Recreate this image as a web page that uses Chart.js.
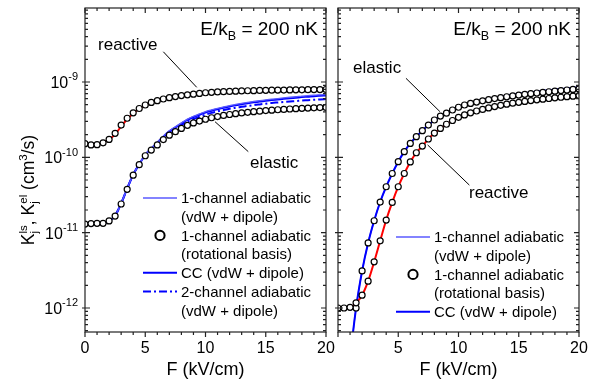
<!DOCTYPE html>
<html>
<head>
<meta charset="utf-8">
<script src="https://cdn.jsdelivr.net/npm/chart.js@4.4.0/dist/chart.umd.min.js"></script>
<style>
  html, body { margin: 0; padding: 0; background: #fff; }
  #wrap { position: relative; width: 596px; height: 381px; }
  #wrap canvas { position: absolute; left: 0; top: 0; }
</style>
</head>
<body>
<div id="wrap">
  <canvas id="leftChart" width="596" height="381"></canvas>
  <canvas id="rightChart" width="596" height="381"></canvas>
</div>
<script>
/*
  Two-panel log plot: loss (reactive) and elastic rate coefficients vs electric field.
  Left and right panels are separate charts laid over each other on one page.
*/
const FONT = '"Liberation Sans", Arial, Helvetica, sans-serif';

// Electric field grid, kV/cm
const fieldKV = [0, 0.5, 1, 1.5, 2, 2.5, 3, 3.5, 4, 4.5, 5, 5.5, 6, 6.5, 7, 7.5, 8, 8.5, 9, 9.5,
  10, 10.5, 11, 11.5, 12, 12.5, 13, 13.5, 14, 14.5, 15, 15.5, 16, 16.5, 17, 17.5, 18, 18.5, 19, 19.5, 20];

/* Left panel, values in units of 1e-10 cm^3/s */
const LEFT_UNIT = 1e-10;
const leftReactiveCircles = [1.52, 1.46, 1.47, 1.56, 1.73, 2.08, 2.68, 3.30, 3.90, 4.45, 4.95, 5.35, 5.65, 5.95, 6.20, 6.40, 6.60, 6.75, 6.90, 7.05,
  7.20, 7.30, 7.38, 7.45, 7.50, 7.55, 7.60, 7.65, 7.68, 7.72, 7.75, 7.78, 7.80, 7.82, 7.84, 7.86, 7.88, 7.90, 7.92, 7.94, 7.95];
const leftReactiveLine = [1.52, 1.46, 1.47, 1.56, 1.73, 2.02, 2.58, 3.20, 3.82, 4.42, 4.93, 5.35, 5.65, 5.95, 6.20, 6.40, 6.60, 6.75, 6.90, 7.05,
  7.20, 7.30, 7.38, 7.45, 7.50, 7.55, 7.60, 7.65, 7.68, 7.72, 7.75, 7.78, 7.80, 7.82, 7.84, 7.86, 7.88, 7.90, 7.92, 7.94, 7.95];
const leftElasticCircles = [0.130, 0.132, 0.133, 0.133, 0.143, 0.166, 0.240, 0.376, 0.580, 0.800, 1.05, 1.25, 1.46, 1.72, 1.97, 2.19, 2.42, 2.66, 2.86, 3.03,
  3.20, 3.35, 3.48, 3.60, 3.70, 3.80, 3.88, 3.96, 4.04, 4.10, 4.17, 4.23, 4.28, 4.33, 4.38, 4.42, 4.47, 4.50, 4.54, 4.57, 4.60];
const leftElasticCC = [0.130, 0.132, 0.133, 0.133, 0.143, 0.168, 0.245, 0.385, 0.590, 0.810, 1.08, 1.31, 1.56, 1.88, 2.21, 2.50, 2.81, 3.14, 3.43, 3.68,
  3.94, 4.15, 4.35, 4.55, 4.74, 4.90, 5.06, 5.23, 5.37, 5.49, 5.63, 5.75, 5.86, 5.98, 6.09, 6.19, 6.30, 6.39, 6.49, 6.56, 6.62];
const leftElastic1ch = [0.130, 0.132, 0.133, 0.133, 0.143, 0.168, 0.245, 0.385, 0.590, 0.815, 1.09, 1.32, 1.58, 1.91, 2.25, 2.55, 2.87, 3.21, 3.51, 3.77,
  4.04, 4.26, 4.47, 4.67, 4.87, 5.04, 5.20, 5.38, 5.52, 5.65, 5.79, 5.92, 6.03, 6.15, 6.27, 6.37, 6.49, 6.58, 6.68, 6.75, 6.82];
const leftElastic2ch = [0.130, 0.132, 0.133, 0.133, 0.143, 0.168, 0.245, 0.385, 0.590, 0.810, 1.07, 1.29, 1.53, 1.83, 2.13, 2.40, 2.69, 2.98, 3.23, 3.45,
  3.68, 3.89, 4.07, 4.25, 4.40, 4.56, 4.68, 4.81, 4.93, 5.04, 5.15, 5.27, 5.35, 5.43, 5.52, 5.59, 5.68, 5.74, 5.81, 5.87, 5.93];

/* Right panel, absolute values in cm^3/s */
const rightReactive = [1.00e-12, 1.00e-12, 1.02e-12, 1.17e-12, 1.48e-12, 2.27e-12, 4.1e-12, 7.8e-12, 1.47e-11, 2.52e-11,
  4.07e-11, 6.1e-11, 8.7e-11, 1.15e-10, 1.41e-10, 1.75e-10, 2.10e-10, 2.42e-10, 2.75e-10, 3.08e-10,
  3.40e-10, 3.65e-10, 3.90e-10, 4.12e-10, 4.33e-10, 4.53e-10, 4.72e-10, 4.90e-10, 5.07e-10, 5.23e-10,
  5.38e-10, 5.52e-10, 5.66e-10, 5.79e-10, 5.92e-10, 6.04e-10, 6.16e-10, 6.27e-10, 6.38e-10, 6.49e-10, 6.60e-10];
const rightElasticCircles = [null, null, null, 1.00e-12, 3.1e-12, 7.3e-12, 1.44e-11, 2.55e-11, 4.07e-11, 6.1e-11,
  8.75e-11, 1.19e-10, 1.53e-10, 1.88e-10, 2.26e-10, 2.68e-10, 3.13e-10, 3.53e-10, 3.85e-10, 4.25e-10,
  4.62e-10, 4.95e-10, 5.20e-10, 5.42e-10, 5.63e-10, 5.83e-10, 6.02e-10, 6.20e-10, 6.37e-10, 6.54e-10,
  6.70e-10, 6.85e-10, 7.00e-10, 7.14e-10, 7.28e-10, 7.42e-10, 7.56e-10, 7.70e-10, 7.83e-10, 7.96e-10, 8.10e-10];
const rightElasticLine = [null, 2.0e-14, 2.0e-13, 1.00e-12, 3.1e-12, 7.3e-12, 1.44e-11, 2.55e-11, 4.07e-11, 6.1e-11,
  8.75e-11, 1.19e-10, 1.53e-10, 1.88e-10, 2.26e-10, 2.68e-10, 3.13e-10, 3.53e-10, 3.87e-10, 4.28e-10,
  4.70e-10, 5.00e-10, 5.27e-10, 5.52e-10, 5.75e-10, 5.97e-10, 6.18e-10, 6.38e-10, 6.57e-10, 6.76e-10,
  6.94e-10, 7.11e-10, 7.28e-10, 7.44e-10, 7.60e-10, 7.76e-10, 7.91e-10, 8.06e-10, 8.20e-10, 8.34e-10, 8.48e-10];

// y axis decade labels and limits
const yDecades = [1e-9, 1e-10, 1e-11, 1e-12];
const yMin = 4.8e-13, yMax = 9.6e-9;

// legend entries
const legendLeft = [
  { kind: 'thin', text: ['1-channel adiabatic', '(vdW + dipole)'] },
  { kind: 'circle', text: ['1-channel adiabatic', '(rotational basis)'] },
  { kind: 'cc', text: ['CC (vdW + dipole)'] },
  { kind: 'dash', text: ['2-channel adiabatic', '(vdW + dipole)'] }
];
const legendRight = legendLeft.slice(0, 3);

// curve labels with their leader lines, in data coordinates (F, K)
const notesLeft = {
  labels: [{ text: 'reactive', f: 1.08, k: 2.66e-9 }, { text: 'elastic', f: 13.7, k: 7.2e-11 }],
  leaders: [[6.5, 2.52e-9, 9.27, 8.5e-10], [10.79, 2.97e-10, 13.55, 1.19e-10]]
};
const notesRight = {
  labels: [{ text: 'elastic', f: 1.24, k: 1.33e-9 }, { text: 'reactive', f: 10.87, k: 2.85e-11 }],
  leaders: [[5.64, 1.12e-9, 8.46, 4.04e-10], [7.44, 1.46e-10, 10.9, 4.28e-11]]
};

const BLUE = '#0000ff';
const LIGHT_BLUE = '#5a5aff';
const RED = '#ff0000';

function pts(vals, unit) {
  return fieldKV.map((f, i) => ({ x: f, y: vals[i] == null ? null : vals[i] * unit }));
}

function circles(vals, unit) {
  return {
    data: pts(vals, unit), showLine: false,
    pointRadius: 3, pointHoverRadius: 3, pointBorderWidth: 1.2,
    pointBackgroundColor: '#fff', pointBorderColor: '#000'
  };
}

function curve(vals, unit, color, width, dash) {
  return {
    data: pts(vals, unit), borderColor: color, borderWidth: width, borderDash: dash || [],
    pointRadius: 0, cubicInterpolationMode: 'monotone', fill: false
  };
}

/* Text with stacked super/subscripts: parts like {t:'K'} or {sup:'ls', sub:'j'} */
function richWidth(ctx, parts, size) {
  let w = 0;
  parts.forEach(p => {
    if (p.t !== undefined) { ctx.font = size + 'px ' + FONT; w += ctx.measureText(p.t).width; }
    else {
      ctx.font = (size * 0.66) + 'px ' + FONT;
      w += Math.max(p.sup ? ctx.measureText(p.sup).width : 0, p.sub ? ctx.measureText(p.sub).width : 0);
    }
  });
  return w;
}

function richText(ctx, parts, x, y, size, align) {
  const total = richWidth(ctx, parts, size);
  let cx = align === 'center' ? x - total / 2 : align === 'right' ? x - total : x;
  ctx.textAlign = 'left';
  ctx.textBaseline = 'alphabetic';
  parts.forEach(p => {
    if (p.t !== undefined) {
      ctx.font = size + 'px ' + FONT;
      ctx.fillText(p.t, cx, y);
      cx += ctx.measureText(p.t).width;
    } else {
      ctx.font = (size * 0.66) + 'px ' + FONT;
      let w = 0;
      if (p.sup) { ctx.fillText(p.sup, cx, y - size * 0.42); w = ctx.measureText(p.sup).width; }
      if (p.sub) { ctx.fillText(p.sub, cx, y + size * 0.25); w = Math.max(w, ctx.measureText(p.sub).width); }
      cx += w;
    }
  });
}

/* Frame, tick marks on all four sides, decade labels, y title */
const framePlugin = {
  id: 'frame',
  afterDraw(chart, args, opts) {
    const { ctx, chartArea: a, scales: { x, y } } = chart;
    ctx.save();
    ctx.strokeStyle = '#222';
    ctx.lineWidth = 1.2;
    ctx.strokeRect(a.left, a.top, a.right - a.left, a.bottom - a.top);
    ctx.beginPath();
    for (let f = 0; f <= 20; f++) {
      const px = x.getPixelForValue(f);
      const len = f % 5 === 0 ? 5 : 3;
      ctx.moveTo(px, a.bottom); ctx.lineTo(px, a.bottom + len);
      ctx.moveTo(px, a.top); ctx.lineTo(px, a.top + len);
    }
    for (let e = -13; e <= -8; e++) {
      for (let m = 1; m <= 9; m++) {
        const v = m * Math.pow(10, e);
        if (v < y.min || v > y.max) continue;
        const py = y.getPixelForValue(v);
        const len = m === 1 ? 5 : 3;
        ctx.moveTo(a.left - (m === 1 ? 3 : 0), py); ctx.lineTo(a.left + len, py);
        ctx.moveTo(a.right, py); ctx.lineTo(a.right - len, py);
      }
    }
    ctx.stroke();

    ctx.fillStyle = '#000';
    if (opts.yLabels) {
      yDecades.forEach(v => {
        const py = y.getPixelForValue(v);
        const exp = String(Math.round(Math.log10(v)));
        ctx.font = '16px ' + FONT;
        const wBase = ctx.measureText('10').width;
        ctx.font = '11px ' + FONT;
        const wExp = ctx.measureText(exp).width;
        const x0 = a.left - 7 - wBase - wExp;
        ctx.textAlign = 'left';
        ctx.textBaseline = 'alphabetic';
        ctx.font = '16px ' + FONT;
        ctx.fillText('10', x0, py + 6);
        ctx.font = '11px ' + FONT;
        ctx.fillText(exp, x0 + wBase, py - 1.5);
      });
      ctx.save();
      ctx.translate(34, (a.top + a.bottom) / 2 + 20);
      ctx.rotate(-Math.PI / 2);
      richText(ctx, [{ t: 'K' }, { sup: 'ls', sub: 'j' }, { t: ', K' }, { sup: 'el', sub: 'j' },
        { t: ' (cm' }, { sup: '3' }, { t: '/s)' }], 0, 0, 17.5, 'center');
      ctx.restore();
    }
    ctx.restore();
  }
};

/* Header, curve labels with leader lines, legend */
const notesPlugin = {
  id: 'notes',
  afterDraw(chart, args, opts) {
    const { ctx, chartArea: a, scales: { x, y } } = chart;
    ctx.save();
    ctx.fillStyle = '#000';
    richText(ctx, [{ t: 'E/k' }, { sub: 'B' }, { t: ' = 200 nK' }], a.right - 8, a.top + 27, 19, 'right');

    ctx.strokeStyle = '#000';
    ctx.lineWidth = 1;
    ctx.beginPath();
    opts.notes.leaders.forEach(([f1, k1, f2, k2]) => {
      ctx.moveTo(x.getPixelForValue(f1), y.getPixelForValue(k1));
      ctx.lineTo(x.getPixelForValue(f2), y.getPixelForValue(k2));
    });
    ctx.stroke();
    ctx.font = '17px ' + FONT;
    ctx.textAlign = 'left';
    ctx.textBaseline = 'alphabetic';
    opts.notes.labels.forEach(n => ctx.fillText(n.text, x.getPixelForValue(n.f), y.getPixelForValue(n.k)));

    // legend
    const step = 18.7;
    let row = a.top + opts.legendTop;
    const x1 = a.left + 58, x2 = a.left + 92, tx = a.left + 96;
    opts.legend.forEach(item => {
      ctx.save();
      if (item.kind === 'circle') {
        ctx.beginPath();
        ctx.arc((x1 + x2) / 2, row, 4.6, 0, Math.PI * 2);
        ctx.fillStyle = '#fff';
        ctx.fill();
        ctx.lineWidth = 2;
        ctx.strokeStyle = '#000';
        ctx.stroke();
      } else {
        ctx.beginPath();
        ctx.strokeStyle = item.kind === 'thin' ? LIGHT_BLUE : BLUE;
        ctx.lineWidth = item.kind === 'thin' ? 1.3 : 2;
        if (item.kind === 'dash') ctx.setLineDash([8, 3, 2, 3]);
        ctx.moveTo(x1, row);
        ctx.lineTo(x2, row);
        ctx.stroke();
      }
      ctx.restore();
      ctx.fillStyle = '#000';
      ctx.font = '15px ' + FONT;
      item.text.forEach(line => {
        ctx.fillText(line, tx, row + 5.3);
        row += step;
      });
    });
    ctx.restore();
  }
};

function makeOptions(padLeft, padRight, hideZero, notes, legend, legendTop, yLabels) {
  return {
    responsive: false,
    animation: false,
    devicePixelRatio: 1,
    layout: { padding: { left: padLeft, right: padRight, top: 8, bottom: 0 } },
    scales: {
      x: {
        type: 'linear', min: 0, max: 20,
        grid: { display: false, drawTicks: false },
        border: { display: false },
        ticks: {
          stepSize: 5, color: '#000', padding: 7,
          font: { family: FONT, size: 16 },
          callback: v => (hideZero && v === 0 ? '' : v)
        },
        title: {
          display: true, text: 'F (kV/cm)', color: '#000',
          font: { family: FONT, size: 18 }, padding: { top: 0, bottom: 0 }
        },
        afterFit: s => { s.height = 49; }
      },
      y: { type: 'logarithmic', display: false, min: yMin, max: yMax }
    },
    plugins: {
      legend: { display: false },
      tooltip: { enabled: false },
      frame: { yLabels: yLabels },
      notes: { notes: notes, legend: legend, legendTop: legendTop }
    }
  };
}

new Chart(document.getElementById('leftChart'), {
  type: 'line',
  data: {
    datasets: [
      circles(leftReactiveCircles, LEFT_UNIT),
      circles(leftElasticCircles, LEFT_UNIT),
      curve(leftReactiveLine, LEFT_UNIT, RED, 2),
      curve(leftElastic1ch, LEFT_UNIT, LIGHT_BLUE, 1.3),
      curve(leftElasticCC, LEFT_UNIT, BLUE, 2),
      curve(leftElastic2ch, LEFT_UNIT, BLUE, 2, [8, 3, 2, 3])
    ]
  },
  options: makeOptions(85, 270, false, notesLeft, legendLeft, 190, true),
  plugins: [framePlugin, notesPlugin]
});

new Chart(document.getElementById('rightChart'), {
  type: 'line',
  data: {
    datasets: [
      circles(rightReactive, 1),
      circles(rightElasticCircles, 1),
      curve(rightReactive, 1, RED, 2),
      curve(rightElasticLine, 1, BLUE, 2),
      curve(rightElasticLine, 1, LIGHT_BLUE, 1.3)
    ]
  },
  options: makeOptions(338, 17, true, notesRight, legendRight, 229, false),
  plugins: [framePlugin, notesPlugin]
});
</script>
</body>
</html>
